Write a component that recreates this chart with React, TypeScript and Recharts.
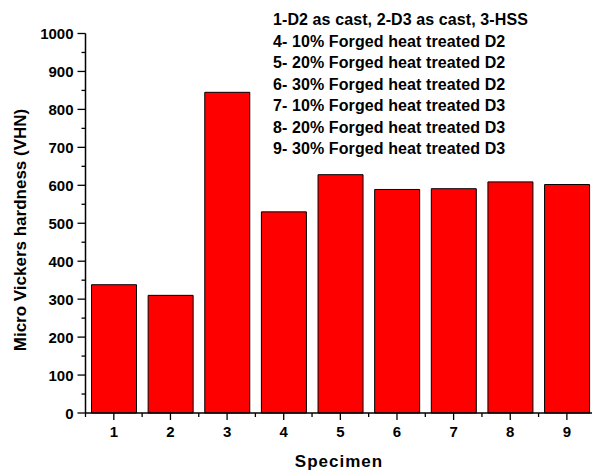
import { BarChart, Bar, XAxis, YAxis, Customized } from 'recharts';

const specimens = [1, 2, 3, 4, 5, 6, 7, 8, 9];
const hardness = [338, 310, 845, 530, 628, 589, 591, 609, 602];
const yTicks = [0, 100, 200, 300, 400, 500, 600, 700, 800, 900, 1000];
const notes = [
  '1-D2 as cast, 2-D3 as cast, 3-HSS',
  '4- 10% Forged heat treated D2',
  '5- 20% Forged heat treated D2',
  '6- 30% Forged heat treated D2',
  '7- 10% Forged heat treated D3',
  '8- 20% Forged heat treated D3',
  '9- 30% Forged heat treated D3',
];

const data = specimens.map((s, i) => ({ specimen: s, vhn: hardness[i] }));

// majors on the whole numbers, minors halfway between
const xTicks = [0.5, ...specimens.flatMap(s => [s, s + 0.5])];
const yAllTicks = yTicks.flatMap((t, i) => (i < yTicks.length - 1 ? [t, t + 50] : [t]));

const FONT = 'Arial, "Liberation Sans", sans-serif';

function YTick(props: any) {
  const { x, y, payload } = props;
  const major = payload.value % 100 === 0;
  return (
    <g>
      <line x1={x} x2={x - (major ? 8 : 4)} y1={y} y2={y} stroke='#000' strokeWidth={1.3} />
      {major && (
        <text x={x - 12} y={y} dy={5.5} textAnchor='end' fontFamily={FONT} fontWeight='bold' fontSize={15} fill='#000'>
          {payload.value}
        </text>
      )}
    </g>
  );
}

function XTick(props: any) {
  const { x, y, payload } = props;
  const major = Number.isInteger(payload.value);
  return (
    <g>
      <line x1={x} x2={x} y1={y} y2={y + (major ? 7 : 4)} stroke='#000' strokeWidth={1.3} />
      {major && (
        <text x={x} y={y + 24} textAnchor='middle' fontFamily={FONT} fontWeight='bold' fontSize={15} fill='#000'>
          {payload.value}
        </text>
      )}
    </g>
  );
}

function Labels() {
  return (
    <g fontFamily={FONT} fontWeight='bold' fill='#000'>
      {notes.map((n, i) => (
        <text key={n} x={273} y={25 + i * 21.5} fontSize={16} letterSpacing={0.1}>
          {n}
        </text>
      ))}
      <text x={339} y={467} textAnchor='middle' fontSize={17} letterSpacing={1}>
        Specimen
      </text>
      <text x={26} y={230} textAnchor='middle' fontSize={17} transform='rotate(-90 26 230)'>
        Micro Vickers hardness (VHN)
      </text>
    </g>
  );
}

export default function App() {
  return (
    <div style={{ position: 'absolute', left: 0, top: 0, width: 592, height: 474, overflow: 'hidden', background: '#fff' }}>
      <BarChart width={600} height={474} data={data} margin={{ top: 33.5, right: 4.8, left: 0, bottom: 0 }}>
        <XAxis
          type='number'
          dataKey='specimen'
          domain={[0.5, 9.5]}
          ticks={xTicks}
          interval={0}
          allowDecimals
          height={61}
          tickSize={0}
          tickMargin={0}
          tickLine={false}
          axisLine={{ stroke: '#000', strokeWidth: 1.5 }}
          tick={<XTick />}
        />
        <YAxis
          type='number'
          domain={[0, 1000]}
          ticks={yAllTicks}
          interval={0}
          width={85.5}
          tickSize={0}
          tickMargin={0}
          tickLine={false}
          axisLine={{ stroke: '#000', strokeWidth: 1.5 }}
          tick={<YTick />}
        />
        <Bar dataKey='vhn' fill='#ff0000' stroke='#000' strokeWidth={1} barSize={45} isAnimationActive={false} />
        <Customized component={<Labels />} />
      </BarChart>
    </div>
  );
}
